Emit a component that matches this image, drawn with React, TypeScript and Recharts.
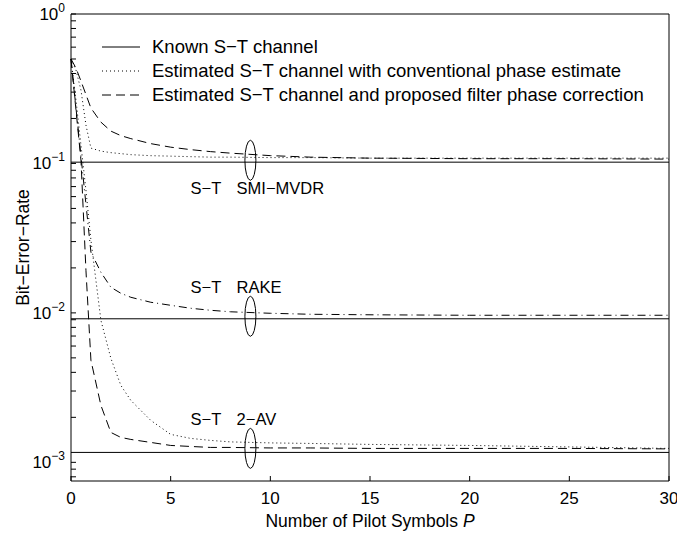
import React from 'react';
import { LineChart, Line, XAxis, YAxis, ReferenceLine, ReferenceDot, Legend, Label } from 'recharts';

const FONT = '"Liberation Sans", Arial, Helvetica, sans-serif';

// number of pilot symbols
const pilots = [0, 0.25, 0.5, 0.75, 1, 1.5, 2, 2.5, 3, 4, 5, 6, 7, 8, 10, 12, 15, 20, 25, 30];

// S-T SMI-MVDR
const smiConv = [0.5, 0.4216, 0.3097, 0.1805, 0.1266, 0.1209, 0.1181, 0.1163, 0.1145, 0.1127, 0.1119, 0.111, 0.1102, 0.1102, 0.1094, 0.1094, 0.1085, 0.1085, 0.1085, 0.1085];
const smiProp = [0.5, 0.4347, 0.3557, 0.2889, 0.2347, 0.189, 0.1646, 0.1535, 0.1466, 0.1357, 0.1285, 0.1237, 0.12, 0.1172, 0.1128, 0.1102, 0.1085, 0.1076, 0.1076, 0.1069];

// S-T RAKE (both estimates coincide)
const rakeEst = [0.5, 0.2347, 0.1119, 0.05337, 0.02546, 0.0187, 0.01484, 0.01353, 0.01272, 0.01178, 0.01124, 0.01074, 0.01041, 0.01017, 0.00994, 0.00979, 0.00971, 0.00964, 0.00964, 0.00964];

// S-T 2-AV
const avConv = [0.5, 0.2655, 0.1326, 0.0663, 0.03064, 0.008923, 0.004965, 0.003273, 0.002598, 0.001909, 0.001538, 0.001446, 0.001402, 0.00137, 0.001349, 0.001338, 0.001318, 0.001297, 0.001268, 0.001239];
const avProp = [0.5, 0.2275, 0.1052, 0.01928, 0.004815, 0.002405, 0.001585, 0.001468, 0.001423, 0.001359, 0.001297, 0.001277, 0.001258, 0.001258, 0.001248, 0.001248, 0.001239, 0.001239, 0.001239, 0.00123];

// known channel BER per receiver
const groupNames = ['SMI−MVDR', 'RAKE', '2−AV'];
const knownBer = [0.102, 0.00913, 0.001165];

const xTicks = [0, 5, 10, 15, 20, 25, 30];
const yMajor = [0.001, 0.01, 0.1, 1];
const yTicks = [
  0.0008, 0.0009, 0.001,
  0.002, 0.003, 0.004, 0.005, 0.006, 0.007, 0.008, 0.009, 0.01,
  0.02, 0.03, 0.04, 0.05, 0.06, 0.07, 0.08, 0.09, 0.1,
  0.2, 0.3, 0.4, 0.5, 0.6, 0.7, 0.8, 0.9, 1,
];

const legendLabels = [
  'Known S−T channel',
  'Estimated S−T channel with conventional phase estimate',
  'Estimated S−T channel and proposed filter phase correction',
];

const Y_DOMAIN = [0.00075, 1];

const YTick = (props: any) => {
  const { x, y, payload } = props;
  const v = payload.value;
  if (!yMajor.some(m => Math.abs(m - v) < m * 1e-6)) return <g />;
  const e = Math.round(Math.log10(v));
  return (
    <text x={x} y={y + 6} textAnchor="end" fontSize={17} fontFamily={FONT} fill="#000">
      <tspan>10</tspan>
      <tspan dy={-8} fontSize={12}>{e === 0 ? '0' : '−' + Math.abs(e)}</tspan>
    </text>
  );
};

const Ring = (props: any) => (
  <ellipse cx={props.cx} cy={props.cy} rx={5.5} ry={20} fill="none" stroke="#000" strokeWidth={1} />
);

const GroupLabel = (name: string) => (props: any) => (
  <g fontFamily={FONT} fontSize={16.5} fill="#000">
    <text x={props.cx} y={props.cy}>S−T</text>
    <text x={props.cx + 46} y={props.cy}>{name}</text>
  </g>
);

const dashes = ['0', '1 3', '9 5'];

const renderLegend = () => (
  <div style={{ fontFamily: FONT, fontSize: 18.5, color: '#000' }}>
    {legendLabels.map((l, i) => (
      <div key={l} style={{ display: 'flex', alignItems: 'center', height: 24, whiteSpace: 'nowrap' }}>
        <svg width={50} height={24}>
          <line x1={4} x2={42} y1={12} y2={12} stroke="#000" strokeWidth={1} strokeDasharray={dashes[i]} />
        </svg>
        <span style={{ marginLeft: 4 }}>{l}</span>
      </div>
    ))}
  </div>
);

// label positions in data units
const ringP = 9;
const ringBer = [0.105, 0.00949, 0.00124];
const labelP = 6;
const labelBer = [0.0623, 0.01353, 0.001767];

export default function App() {
  const data = pilots.map((p, i) => ({
    p,
    smiConv: smiConv[i],
    smiProp: smiProp[i],
    rakeEst: rakeEst[i],
    avConv: avConv[i],
    avProp: avProp[i],
  }));

  return (
    <div style={{ position: 'absolute', left: 0, top: 0, width: 677, height: 533, background: '#fff' }}>
      <LineChart width={677} height={533} data={data} margin={{ top: 13, right: 7, left: 11, bottom: 22 }}>
        <XAxis
          dataKey="p"
          type="number"
          domain={[0, 30]}
          ticks={xTicks}
          interval={0}
          height={30}
          tickSize={-5}
          tickMargin={16}
          stroke="#000"
          tick={{ fill: '#000', fontSize: 17, fontFamily: FONT }}
        >
          <Label
            content={(p: any) => (
              <text x={p.viewBox.x + p.viewBox.width / 2} y={p.viewBox.y + 46} textAnchor="middle" fontSize={17.5} fontFamily={FONT} fill="#000">
                Number of Pilot Symbols <tspan fontStyle="italic">P</tspan>
              </text>
            )}
          />
        </XAxis>
        <XAxis xAxisId="top" orientation="top" dataKey="p" type="number" domain={[0, 30]} ticks={xTicks} interval={0} height={1} tickSize={-5} tick={false} stroke="#000" />
        <YAxis
          scale="log"
          domain={Y_DOMAIN}
          ticks={yTicks}
          interval={0}
          width={60}
          tickSize={-5}
          tickMargin={11}
          stroke="#000"
          tick={<YTick />}
          allowDataOverflow
        >
          <Label
            content={(p: any) => {
              const cx = p.viewBox.x + 12;
              const cy = p.viewBox.y + p.viewBox.height / 2;
              return (
                <text x={cx} y={cy} transform={`rotate(-90 ${cx} ${cy})`} textAnchor="middle" dominantBaseline="central" fontSize={17.5} fontFamily={FONT} fill="#000">
                  Bit−Error−Rate
                </text>
              );
            }}
          />
        </YAxis>
        <YAxis yAxisId="right" orientation="right" scale="log" domain={Y_DOMAIN} ticks={yTicks} interval={0} width={1} tickSize={-5} tick={false} stroke="#000" allowDataOverflow />

        {knownBer.map(v => (
          <ReferenceLine key={v} y={v} stroke="#000" strokeWidth={1} />
        ))}

        <Line dataKey="smiConv" type="linear" stroke="#000" strokeWidth={1} strokeDasharray="1 3" dot={false} activeDot={false} isAnimationActive={false} />
        <Line dataKey="smiProp" type="linear" stroke="#000" strokeWidth={1} strokeDasharray="9 5" dot={false} activeDot={false} isAnimationActive={false} />
        <Line dataKey="rakeEst" type="linear" stroke="#000" strokeWidth={1} strokeDasharray="8 4 1 4" dot={false} activeDot={false} isAnimationActive={false} />
        <Line dataKey="avConv" type="linear" stroke="#000" strokeWidth={1} strokeDasharray="1 3" dot={false} activeDot={false} isAnimationActive={false} />
        <Line dataKey="avProp" type="linear" stroke="#000" strokeWidth={1} strokeDasharray="9 5" dot={false} activeDot={false} isAnimationActive={false} />

        {ringBer.map((v, i) => (
          <ReferenceDot key={'r' + i} x={ringP} y={v} r={0} ifOverflow="visible" shape={Ring} />
        ))}
        {labelBer.map((v, i) => (
          <ReferenceDot key={'l' + i} x={labelP} y={v} r={0} ifOverflow="visible" shape={GroupLabel(groupNames[i])} />
        ))}

        <Legend layout="vertical" align="center" verticalAlign="middle" content={renderLegend} wrapperStyle={{ left: 98, top: 35, width: 570 }} />
      </LineChart>
    </div>
  );
}
